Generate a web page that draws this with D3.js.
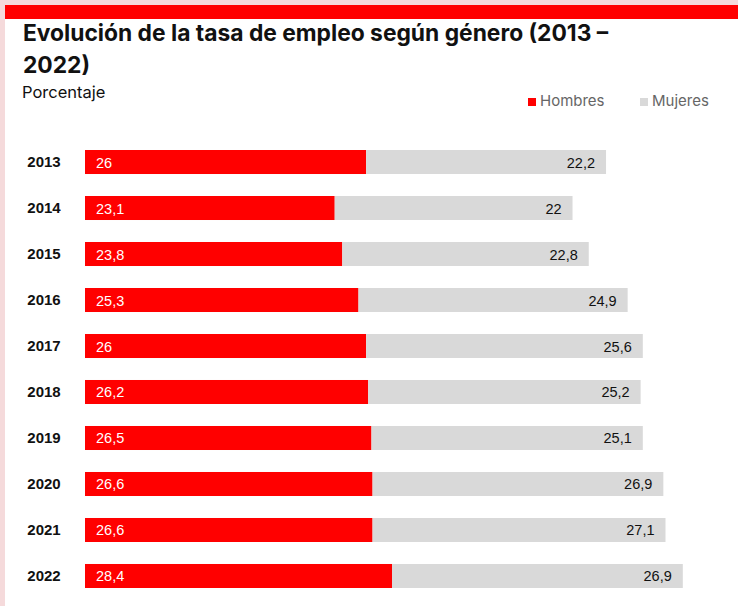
<!DOCTYPE html>
<html>
<head>
<meta charset="utf-8">
<script src="https://cdn.jsdelivr.net/npm/d3@7"></script>
<style>
  body { margin: 0; background: #f5dadb; }
  svg { display: block; }
</style>
</head>
<body>
<div id="chart"></div>
<script>
var years = ["2013", "2014", "2015", "2016", "2017", "2018", "2019", "2020", "2021", "2022"];
var hombres = [26, 23.1, 23.8, 25.3, 26, 26.2, 26.5, 26.6, 26.6, 28.4];
var mujeres = [22.2, 22, 22.8, 24.9, 25.6, 25.2, 25.1, 26.9, 27.1, 26.9];
var seriesNames = ["Hombres", "Mujeres"];

var width = 738, height = 606;
var red = "#ff0000", grey = "#d9d9d9";
var numFont = "'Liberation Sans Narrow', 'Liberation Sans', sans-serif";
var textFont = "Inter, 'Open Sans', sans-serif";

var svg = d3.select("#chart").append("svg")
  .attr("width", width)
  .attr("height", height);

// pink frame + white panel + red strip
svg.append("rect").attr("width", width).attr("height", height).attr("fill", "#f5dadb");
svg.append("rect").attr("x", 5).attr("y", 5).attr("width", width - 5).attr("height", height - 5).attr("fill", "#fff");
svg.append("rect").attr("x", 5).attr("y", 5).attr("width", width - 5).attr("height", 14).attr("fill", red);

var title = svg.append("text")
  .style("font-family", textFont)
  .style("font-weight", "bold")
  .style("font-size", "22.8px")
  .attr("fill", "#111");
title.append("tspan").attr("x", 23).attr("y", 41).text("Evolución de la tasa de empleo según género (2013 –");
title.append("tspan").attr("x", 23).attr("y", 73).text("2022)");

svg.append("text")
  .attr("x", 22).attr("y", 98)
  .style("font-family", textFont)
  .style("font-size", "16.5px")
  .attr("fill", "#111")
  .text("Porcentaje");

// legend
var legendX = [528, 640];
seriesNames.forEach(function (name, i) {
  svg.append("rect").attr("x", legendX[i]).attr("y", 98).attr("width", 8).attr("height", 8)
    .attr("fill", i === 0 ? red : grey);
  svg.append("text").attr("x", legendX[i] + 12).attr("y", 106)
    .style("font-family", textFont)
    .style("font-size", "15px")
    .attr("fill", "#666")
    .text(name);
});

var x = d3.scaleLinear().domain([0, 60]).range([85, 85 + 60 * 10.81]);
var y = d3.scaleBand().domain(years).range([127, 611]).paddingInner(0.478).paddingOuter(0.5);

// year axis
var yAxis = svg.append("g")
  .attr("transform", "translate(64,0)")
  .call(d3.axisLeft(y).tickSize(0).tickPadding(0));
yAxis.select(".domain").remove();
yAxis.selectAll("text")
  .attr("text-anchor", "middle")
  .attr("x", -20)
  .style("font-family", "'Liberation Sans', sans-serif")
  .style("font-weight", "bold")
  .style("font-size", "15px")
  .attr("fill", "#111");

var rows = svg.selectAll(".row").data(years).enter().append("g").attr("class", "row");

rows.append("rect")
  .attr("x", x(0))
  .attr("y", function (d) { return y(d); })
  .attr("width", function (d, i) { return x(hombres[i]) - x(0); })
  .attr("height", y.bandwidth())
  .attr("fill", red);

rows.append("rect")
  .attr("x", function (d, i) { return x(hombres[i]); })
  .attr("y", function (d) { return y(d); })
  .attr("width", function (d, i) { return x(hombres[i] + mujeres[i]) - x(hombres[i]); })
  .attr("height", y.bandwidth())
  .attr("fill", grey);

var fmt = function (v) { return String(v).replace(".", ","); };

rows.append("text")
  .attr("x", x(0) + 11)
  .attr("y", function (d) { return y(d) + y.bandwidth() / 2 + 5.5; })
  .style("font-family", numFont)
  .style("font-size", "14.5px")
  .attr("fill", "#fff")
  .text(function (d, i) { return fmt(hombres[i]); });

rows.append("text")
  .attr("x", function (d, i) { return x(hombres[i] + mujeres[i]) - 11; })
  .attr("y", function (d) { return y(d) + y.bandwidth() / 2 + 5.5; })
  .attr("text-anchor", "end")
  .style("font-family", numFont)
  .style("font-size", "14.5px")
  .attr("fill", "#111")
  .text(function (d, i) { return fmt(mujeres[i]); });
</script>
</body>
</html>
